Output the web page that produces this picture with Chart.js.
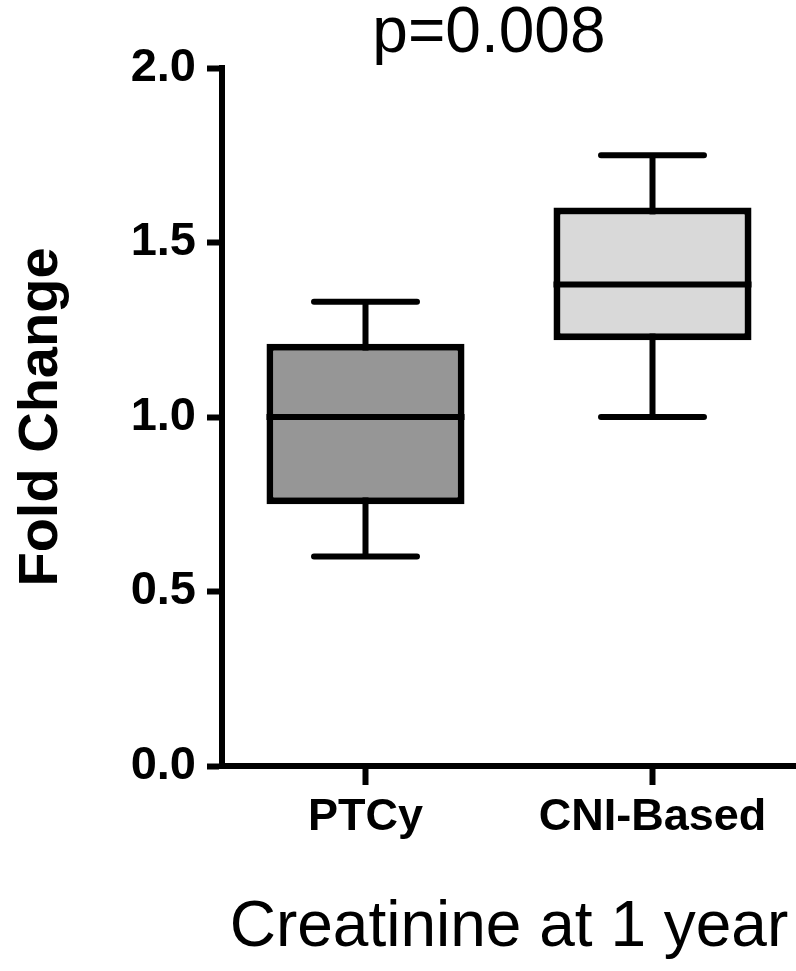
<!DOCTYPE html>
<html lang="en">
<head>
    <meta charset="UTF-8">
    <title>Creatinine at 1 year</title>
    <script src="https://cdn.jsdelivr.net/npm/chart.js"></script>
    <style>
        body {
            margin: 0;
            background: #ffffff;
        }
        .chart-container {
            width: 796px;
            height: 971px;
        }
    </style>
</head>
<body>
    <div class="chart-container">
        <canvas id="boxChart"></canvas>
    </div>

    <script>
        // data
        const groups = ['PTCy', 'CNI-Based'];
        const whiskerMin = [0.60, 1.00];
        const q1 = [0.75, 1.22];
        const median = [1.00, 1.38];
        const q3 = [1.21, 1.60];
        const whiskerMax = [1.33, 1.75];
        const boxColors = ['#969696', '#d9d9d9'];
        const yTicks = [0, 0.5, 1.0, 1.5, 2.0];
        const pValueText = 'p=0.008';

        const FONT = "'Liberation Sans', Arial, sans-serif";
        const LINE = 6;

        // whiskers go under the boxes, the median line on top
        const boxPlotPlugin = {
            id: 'boxPlot',
            beforeDatasetsDraw(chart) {
                const ctx = chart.ctx;
                const y = chart.scales.y;
                const meta = chart.getDatasetMeta(0);
                ctx.save();
                ctx.strokeStyle = '#000';
                ctx.lineWidth = LINE;
                ctx.lineCap = 'round';
                meta.data.forEach((bar, i) => {
                    const cx = bar.x;
                    const capHalf = bar.width * 0.26;
                    const yMin = y.getPixelForValue(whiskerMin[i]);
                    const yMax = y.getPixelForValue(whiskerMax[i]);
                    ctx.beginPath();
                    ctx.moveTo(cx, yMin);
                    ctx.lineTo(cx, yMax);
                    ctx.moveTo(cx - capHalf, yMin);
                    ctx.lineTo(cx + capHalf, yMin);
                    ctx.moveTo(cx - capHalf, yMax);
                    ctx.lineTo(cx + capHalf, yMax);
                    ctx.stroke();
                });
                ctx.restore();
            },
            afterDatasetsDraw(chart) {
                const ctx = chart.ctx;
                const y = chart.scales.y;
                const x = chart.scales.x;
                const meta = chart.getDatasetMeta(0);
                ctx.save();
                ctx.strokeStyle = '#000';
                ctx.lineWidth = LINE;
                meta.data.forEach((bar, i) => {
                    const ym = y.getPixelForValue(median[i]);
                    ctx.beginPath();
                    ctx.moveTo(bar.x - bar.width / 2, ym);
                    ctx.lineTo(bar.x + bar.width / 2, ym);
                    ctx.stroke();
                });
                // p value annotation above the boxes
                ctx.fillStyle = '#000';
                ctx.font = '64px ' + FONT;
                ctx.textAlign = 'center';
                ctx.textBaseline = 'middle';
                ctx.fillText(pValueText, x.getPixelForValue(0.43), 34);
                ctx.restore();
            }
        };

        const ctx = document.getElementById('boxChart').getContext('2d');

        const boxChart = new Chart(ctx, {
            type: 'bar',
            data: {
                labels: groups,
                datasets: [{
                    label: 'Creatinine',
                    data: groups.map((g, i) => [q1[i], q3[i]]),
                    backgroundColor: boxColors,
                    borderColor: '#000',
                    borderWidth: 7,
                    borderSkipped: false,
                    barPercentage: 0.69,
                    categoryPercentage: 1.0
                }]
            },
            options: {
                responsive: true,
                maintainAspectRatio: false,
                animation: false,
                layout: {
                    padding: { top: 68, right: 0, left: 0, bottom: 0 }
                },
                plugins: {
                    legend: { display: false },
                    tooltip: { enabled: false }
                },
                scales: {
                    x: {
                        offset: true,
                        afterFit: (scale) => { scale.height = 205; },
                        grid: {
                            offset: false,
                            drawOnChartArea: false,
                            drawTicks: true,
                            tickLength: 19,
                            tickWidth: LINE,
                            tickColor: '#000'
                        },
                        border: { display: true, color: '#000', width: LINE },
                        ticks: {
                            color: '#000',
                            padding: 6,
                            font: { family: FONT, size: 45, weight: 'bold' }
                        },
                        title: {
                            display: true,
                            text: 'Creatinine at 1 year',
                            color: '#000',
                            font: { family: FONT, size: 64 },
                            padding: { top: 0, bottom: 4 }
                        }
                    },
                    y: {
                        min: 0,
                        max: 2,
                        afterFit: (scale) => { scale.width = 222; },
                        afterBuildTicks: (scale) => {
                            scale.ticks = yTicks.map(v => ({ value: v }));
                        },
                        grid: {
                            drawOnChartArea: false,
                            drawTicks: true,
                            tickLength: 15,
                            tickWidth: LINE,
                            tickColor: '#000'
                        },
                        border: { display: true, color: '#000', width: LINE },
                        ticks: {
                            color: '#000',
                            padding: 11,
                            font: { family: FONT, size: 47, weight: 'bold' },
                            callback: (value) => Number(value).toFixed(1)
                        },
                        title: {
                            display: true,
                            text: 'Fold Change',
                            color: '#000',
                            font: { family: FONT, size: 56, weight: 'bold' },
                            padding: { top: 8, bottom: 0 }
                        }
                    }
                }
            },
            plugins: [boxPlotPlugin]
        });
    </script>
</body>
</html>
